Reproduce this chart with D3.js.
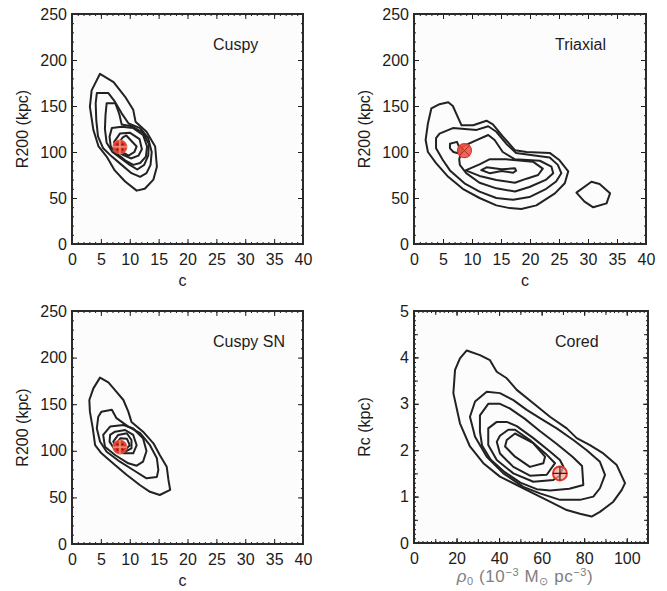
<!DOCTYPE html>
<html>
<head>
<meta charset="utf-8">
<script src="https://cdn.jsdelivr.net/npm/d3@7"></script>
<style>
  body { margin: 0; background: #fff; }
  text { font-family: "Liberation Sans", Arial, Helvetica, sans-serif; }
</style>
</head>
<body>
<svg id="fig" width="667" height="591"></svg>
<script>
// ---- Tick values -------------------------------------------------------
const cTicks = [0, 5, 10, 15, 20, 25, 30, 35, 40];
const r200Ticks = [0, 50, 100, 150, 200, 250];
const rhoTicks = [0, 20, 40, 60, 80, 100];
const rcTicks = [0, 1, 2, 3, 4, 5];

// ---- Likelihood contours (outermost first), in data units --------------
// Cuspy: [c, R200 (kpc)]
const cuspyContours = [
  [[4.85,185],[7.2,176],[9.2,160],[10.6,146],[11,133],[12.9,122],[14.4,106],[14.7,84],[14.1,70],[12.6,60],[11.2,58],[9.2,68],[7.4,80],[6.0,95],[4.6,106],[3.7,124],[3.1,149],[3.4,167]],
  [[4.3,164],[6.3,164],[7.4,155],[8.6,142],[9.8,131],[11.8,126],[13.2,115],[13.8,100],[13.6,86],[12.9,77],[11.8,73],[10.3,77],[8.6,86],[6.9,95],[5.4,104],[4.5,117],[4.2,135],[4.1,153]],
  [[6.0,153],[7.5,153],[8.2,141],[8.6,130],[10.3,128],[12.3,121],[13.3,109],[13.2,96],[12.5,86],[11.3,81],[10,86],[8.5,93],[7.0,100],[6.0,110],[5.7,125],[5.8,140]],
  [[6.9,126],[8.6,127.5],[10.6,126],[12.3,118.5],[13.0,106],[12.8,95],[11.8,88],[10.6,86],[9.2,91],[7.7,98.6],[6.7,106],[6.5,116.6]],
  [[8.3,120],[10,121],[11.7,114],[12.1,103],[11.5,96],[10.2,93],[8.8,97],[7.5,102],[7.3,111]],
  [[8.8,116],[9.4,118],[11.2,106],[10.8,100],[9.8,96],[8.4,101],[8.0,109]]
];
const cuspyBest = [8.3, 105.5];

// Triaxial: [c, R200 (kpc)]
const triaxialContours = [
  [[3.0,147.5],[4.4,152],[5.9,154],[6.7,150],[7.4,140],[8.2,129],[10.2,129],[12.5,134],[13.6,130],[15.3,117],[17.4,102],[19.4,100],[23.4,99],[25.1,91],[26.6,79],[26,66],[24.3,55],[21.1,42],[18.5,38],[16.5,39],[14.2,42],[11.3,50],[8.4,60],[5.9,73],[3.8,88],[2.4,100],[2.0,113],[2.4,131]],
  [[4.4,120],[6.7,126],[10.8,124],[12.8,128],[14.2,122],[15.9,109],[17.6,99],[21.1,96],[23.4,94],[24.8,86],[25.4,77],[24.5,68],[22.8,60],[19.9,51],[17.1,48],[14.2,50],[11.3,57],[8.7,66],[6.2,80],[5.0,91],[3.8,104],[3.8,115]],
  [[7.8,92],[8.4,106],[10.5,112],[12.8,118.5],[13.9,113],[15.3,100],[17.4,92],[21.7,90.5],[23.7,84],[24,77],[22.8,70],[19.9,62],[17.4,57],[14.2,60.5],[11.3,66.6],[9.0,77],[7.9,86]],
  [[8.9,80],[11.3,86.6],[13,92],[15.9,92],[20.5,89.5],[22.2,82],[21.4,75],[19.4,71],[17.4,66.6],[14.2,69.6],[11.3,74]],
  [[11.6,80.4],[12.5,83.3],[15.1,81.2],[17.4,82.3],[17.6,79.7],[17.1,77.5],[15.1,79.3],[13.1,76.8]],
  [[6.2,109],[7.4,111],[7.9,104],[7.6,98.6],[6.8,100],[6.2,104]],
  [[28,55.8],[30.6,67.7],[32,65.2],[33.8,55.1],[33.2,44.2],[30.9,39.9],[29.4,46]]
];
const triaxialBest = [8.7, 101.5];

// Cuspy SN: [c, R200 (kpc)]
const cuspySNContours = [
  [[4.85,178.5],[6.3,173.5],[7.45,165],[8.9,154.5],[9.75,142],[10.3,131],[12.3,120.5],[14.1,108],[15.2,95.5],[16.4,83],[16.7,68.7],[17,58],[15.2,52.6],[13.5,56],[11.8,63],[9.5,74],[7.45,84.8],[5.1,97.3],[4,106],[3.6,124],[3.1,142],[3.0,154.5],[3.7,167]],
  [[5.1,142],[6.9,144],[7.7,135],[9.75,126],[11.8,119],[13.5,106],[14.7,92],[14.95,79.4],[14.7,72],[12.9,70.5],[10.6,79.4],[8.3,88.3],[6.0,99],[4.85,110],[4.3,124],[4.55,136.6]],
  [[6.6,126],[8.9,127.7],[10.6,124],[12.3,113.4],[12.9,99.8],[12.3,88.3],[11.2,84],[9.75,86.6],[7.45,95.5],[5.7,104.4],[5.4,117]],
  [[7.45,120.5],[9.2,122.3],[10.6,117],[11.2,106],[10.6,97.3],[8.9,97.3],[7.45,100.8],[6.5,109.8],[6.6,117]],
  [[8.0,117],[9.5,118.8],[10.3,111.6],[10.3,102.7],[9.2,99],[7.7,101.9],[7.15,109.8]],
  [[8.4,113.5],[9.5,113],[10,106],[9.3,101.5],[8.2,102.5],[7.7,108]]
];
const cuspySNBest = [8.3, 104];

// Cored: [rho_0 (1e-3 Msun/pc^3), Rc (kpc)]
const coredContours = [
  [[24.8,4.15],[31,4.05],[35.7,3.94],[38.9,3.69],[43.6,3.55],[48.3,3.30],[56.1,3.01],[63.9,2.72],[71.8,2.47],[76.5,2.26],[82.7,2.11],[89,1.93],[95.3,1.68],[99.2,1.29],[97.6,1.14],[93.7,0.89],[87.4,0.67],[83.5,0.57],[78,0.63],[71.8,0.71],[63.9,0.89],[56.1,1.07],[48.3,1.25],[40.4,1.43],[32.6,1.72],[26.3,2.08],[21.6,2.58],[18.5,3.23],[19.3,3.73],[21.6,3.98]],
  [[34.2,3.26],[40.4,3.23],[46.7,3.08],[53,2.87],[59.2,2.69],[67.1,2.47],[74.9,2.22],[81.2,2.0],[87.4,1.75],[89.8,1.47],[87.4,1.18],[84.3,1.0],[78,0.93],[68.6,0.93],[59.2,1.07],[51.4,1.21],[42,1.50],[34.2,1.86],[28.7,2.29],[26.3,2.72],[28.7,3.05]],
  [[34.9,3.0],[40.4,3.0],[45,2.9],[52,2.68],[59,2.42],[67,2.14],[74.5,1.86],[79,1.66],[79.6,1.25],[73,1.17],[64,1.13],[57.7,1.16],[50,1.3],[42,1.55],[36,1.8],[32,2.1],[31,2.4],[31,2.75]],
  [[38.9,2.61],[43.6,2.61],[48.3,2.52],[56.1,2.26],[63.9,1.97],[68.6,1.79],[70.2,1.65],[68.5,1.45],[65.5,1.36],[56.1,1.32],[46.7,1.50],[38.9,1.79],[34.9,2.11],[34.9,2.47]],
  [[44.3,2.44],[47.5,2.44],[55,2.2],[62,1.92],[66.3,1.72],[62.4,1.47],[54.5,1.45],[46.7,1.64],[40.4,1.93],[38.9,2.18],[40.4,2.31]],
  [[43.6,2.22],[47.5,2.36],[56.1,2.15],[61.6,1.86],[60.8,1.72],[54.5,1.64],[47.5,1.86],[42.8,2.08]]
];
const coredBest = [68.6, 1.5];

// ---- Panel layout -----------------------------------------------------
const panels = [
  { box: [72, 303, 14, 244], xDomain: [0, 40], yDomain: [0, 250],
    xTicks: cTicks, xMinor: d3.range(0, 41, 1), yTicks: r200Ticks, yMinor: d3.range(0, 251, 10),
    contours: cuspyContours, best: cuspyBest, marker: "dots",
    title: "Cuspy", xLabel: "c", yLabel: "R200 (kpc)" },
  { box: [414, 646, 14, 244], xDomain: [0, 40], yDomain: [0, 250],
    xTicks: cTicks, xMinor: d3.range(0, 41, 1), yTicks: r200Ticks, yMinor: d3.range(0, 251, 10),
    contours: triaxialContours, best: triaxialBest, marker: "cross",
    title: "Triaxial", xLabel: "c", yLabel: "R200 (kpc)" },
  { box: [72, 303, 311, 544], xDomain: [0, 40], yDomain: [0, 250],
    xTicks: cTicks, xMinor: d3.range(0, 41, 1), yTicks: r200Ticks, yMinor: d3.range(0, 251, 10),
    contours: cuspySNContours, best: cuspySNBest, marker: "dots",
    title: "Cuspy SN", xLabel: "c", yLabel: "R200 (kpc)" },
  { box: [414, 648, 311, 543], xDomain: [0, 110], yDomain: [0, 5],
    xTicks: rhoTicks, xMinor: d3.range(0, 111, 2), xMid: d3.range(0, 111, 10),
    yTicks: rcTicks, yMinor: d3.range(0, 5.01, 0.1), yMid: d3.range(0, 5.01, 0.5),
    contours: coredContours, best: coredBest, marker: "plus",
    title: "Cored", xLabel: null, yLabel: "Rc (kpc)" }
];

const svg = d3.select("#fig");
const ink = "#1c1c1c";

function drawPanel(p) {
  const [x0, x1, y0, y1] = p.box;
  const x = d3.scaleLinear().domain(p.xDomain).range([x0, x1]);
  const y = d3.scaleLinear().domain(p.yDomain).range([y1, y0]);
  const g = svg.append("g");

  g.append("rect").attr("x", x0).attr("y", y0).attr("width", x1 - x0).attr("height", y1 - y0)
    .attr("fill", "#fcfcfc");

  // contour lines
  const line = d3.line().x(d => x(d[0])).y(d => y(d[1])).curve(d3.curveLinearClosed);
  g.selectAll("path.contour").data(p.contours).join("path")
    .attr("class", "contour").attr("d", line)
    .attr("fill", "none").attr("stroke", "#222").attr("stroke-width", 2)
    .attr("stroke-linejoin", "round");

  // best-fit marker
  const mx = x(p.best[0]), my = y(p.best[1]), r = 7;
  const m = g.append("g").attr("transform", `translate(${mx},${my})`);
  if (p.marker === "dots") {
    m.append("circle").attr("r", r).attr("fill", "#e2402f").attr("stroke", "#e65a48").attr("stroke-width", 1);
    m.append("path").attr("d", `M${-r},0H${r}M0,${-r}V${r}`).attr("stroke", "#f29a88").attr("stroke-width", 1.2);
    [[-2.6,-2.6],[2.6,-2.6],[-2.6,2.6],[2.6,2.6]].forEach(d =>
      m.append("circle").attr("cx", d[0]).attr("cy", d[1]).attr("r", 1.1).attr("fill", "#7a1a10"));
  } else if (p.marker === "cross") {
    m.append("circle").attr("r", r).attr("fill", "#e9584a").attr("fill-opacity", 0.9)
      .attr("stroke", "#dc3a2c").attr("stroke-width", 1.2);
    const k = r * 0.7;
    m.append("path").attr("d", `M${-k},${-k}L${k},${k}M${-k},${k}L${k},${-k}`)
      .attr("stroke", "#b52a1d").attr("stroke-width", 1);
  } else {
    m.append("circle").attr("r", r).attr("fill", "#f3a497").attr("fill-opacity", 0.7)
      .attr("stroke", "#e23a2b").attr("stroke-width", 2);
    m.append("path").attr("d", `M${-r},0H${r}M0,${-r}V${r}`)
      .attr("stroke", "#4a1510").attr("stroke-width", 1.2);
  }

  // ticks on all four sides, pointing inward
  function ticks(axisGen, values, size, tx, ty) {
    const a = g.append("g").attr("transform", `translate(${tx},${ty})`)
      .call(axisGen.tickValues(values).tickSize(size).tickFormat(""));
    a.select(".domain").remove();
    a.selectAll("line").attr("stroke", ink).attr("stroke-width", 1);
    return a;
  }
  const sets = [[p.xMinor, -2]];
  if (p.xMid) sets.push([p.xMid, -4]);
  sets.push([p.xTicks, -5]);
  sets.forEach(([v, s]) => {
    ticks(d3.axisBottom(x), v, s, 0, y1);
    ticks(d3.axisTop(x), v, s, 0, y0);
  });
  const ysets = [[p.yMinor, -2]];
  if (p.yMid) ysets.push([p.yMid, -4]);
  ysets.push([p.yTicks, -5]);
  ysets.forEach(([v, s]) => {
    ticks(d3.axisLeft(y), v, s, x0, 0);
    ticks(d3.axisRight(y), v, s, x1, 0);
  });

  // tick labels
  const xl = g.append("g").attr("transform", `translate(0,${y1})`)
    .call(d3.axisBottom(x).tickValues(p.xTicks).tickSize(0).tickPadding(10).tickFormat(d3.format("d")));
  xl.select(".domain").remove();
  xl.selectAll("text").attr("fill", ink).attr("font-size", 16)
    .attr("font-family", '"Liberation Sans", Arial, sans-serif');
  const yl = g.append("g").attr("transform", `translate(${x0},0)`)
    .call(d3.axisLeft(y).tickValues(p.yTicks).tickSize(0).tickPadding(5).tickFormat(d3.format("d")));
  yl.select(".domain").remove();
  yl.selectAll("text").attr("fill", ink).attr("font-size", 16)
    .attr("font-family", '"Liberation Sans", Arial, sans-serif');

  // frame
  g.append("rect").attr("x", x0).attr("y", y0).attr("width", x1 - x0).attr("height", y1 - y0)
    .attr("fill", "none").attr("stroke", "#2a2a2a").attr("stroke-width", 2);

  // panel title
  g.append("text").attr("x", x0 + 141).attr("y", y0 + 36)
    .attr("font-size", 16).attr("fill", ink).text(p.title);

  // axis titles
  g.append("text")
    .attr("transform", `translate(${x0 - 44},${(y0 + y1) / 2}) rotate(-90)`)
    .attr("text-anchor", "middle").attr("font-size", 16).attr("fill", ink).text(p.yLabel);
  if (p.xLabel) {
    g.append("text").attr("x", (x0 + x1) / 2 - 5).attr("y", y1 + 42)
      .attr("text-anchor", "middle").attr("font-size", 16).attr("fill", ink).text(p.xLabel);
  } else {
    const t = g.append("text").attr("x", (x0 + x1) / 2 - 6).attr("y", y1 + 39)
      .attr("text-anchor", "middle").attr("font-size", 17).attr("fill", "#808080")
      .attr("letter-spacing", 0.6)
      .attr("font-family", '"Liberation Sans", Arial, sans-serif');
    t.append("tspan").attr("font-style", "italic").text("ρ");
    t.append("tspan").attr("font-size", 11).attr("dy", 3).text("0");
    t.append("tspan").attr("dy", -3).text(" (10");
    t.append("tspan").attr("font-size", 11).attr("dy", -6).text("−3");
    t.append("tspan").attr("dy", 6).text(" M");
    t.append("tspan").attr("font-size", 11).attr("dy", 3).text("⊙");
    t.append("tspan").attr("dy", -3).text(" pc");
    t.append("tspan").attr("font-size", 11).attr("dy", -6).text("−3");
    t.append("tspan").attr("dy", 6).text(")");
  }
}

panels.forEach(drawPanel);
</script>
</body>
</html>
